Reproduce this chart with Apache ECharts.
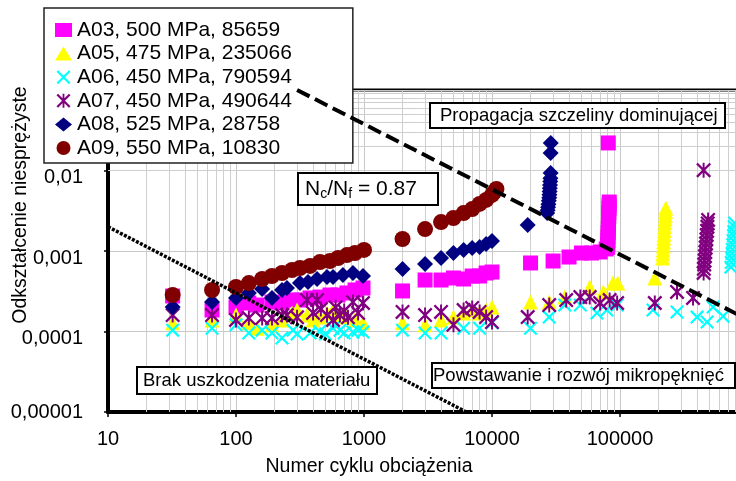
<!DOCTYPE html>
<html><head><meta charset="utf-8">
<script src="https://cdn.jsdelivr.net/npm/echarts@6/dist/echarts.min.js"></script>
<style>html,body{margin:0;padding:0;background:#fff}#c{width:736px;height:481px}</style>
</head><body><div id="c"></div>
<script>
// ---- data (cycles, inelastic strain) ----
const seriesNames = ['A03, 500 MPa, 85659','A05, 475 MPa, 235066','A06, 450 MPa, 790594','A07, 450 MPa, 490644','A08, 525 MPa, 28758','A09, 550 MPa, 10830'];
const a03 = [[32,2.76e-4],[65,1.85e-4],[100,2.01e-4],[126,2.26e-4],[146,2.13e-4],[191,2.32e-4],[229,2.26e-4],[274,2.46e-4],[316,2.46e-4],[379,2.61e-4],[453,2.68e-4],[542,2.84e-4],[627,2.84e-4],[736,3.01e-4],[851,3.28e-4],[982,3.47e-4],
 [2000,3.19e-4],[3000,4.36e-4],[4000,4.36e-4],[5000,4.62e-4],[6000,4.49e-4],[7000,4.89e-4],[8000,4.89e-4],[9000,5.33e-4],[10000,5.48e-4],
 [20000,7.1e-4],[30000,7.51e-4],[40000,8.42e-4],[50000,9.44e-4],[60000,9.44e-4],[70000,9.72e-4],[78000,1.06e-3],
 [80000,1.11e-3],[80200,1.2e-3],[80400,1.35e-3],[80600,1.5e-3],[80800,1.7e-3],[81000,1.9e-3],[81200,2.1e-3],[81400,2.4e-3],[81600,2.7e-3],[81800,3.0e-3],[82000,3.4e-3],[82200,3.7e-3],[82400,4.06e-3],[81000,0.022]];
const a05 = [[32,1.28e-4],[65,1.39e-4],[100,1.6e-4],[126,1.28e-4],[146,1.10e-4],[191,1.21e-4],[229,1.39e-4],[274,1.70e-4],[300,1.85e-4],[359,1.6e-4],[400,1.39e-4],[453,1.51e-4],[514,1.70e-4],[573,1.85e-4],[649,1.6e-4],[736,1.51e-4],[851,1.39e-4],[982,1.28e-4],
 [2000,1.28e-4],[3000,1.21e-4],[4000,1.39e-4],[5000,1.51e-4],[6000,1.70e-4],[7000,1.85e-4],[8000,1.70e-4],[9000,1.85e-4],[10000,2.01e-4],
 [20000,2.32e-4],[28000,2.32e-4],[37000,2.68e-4],[58000,3.57e-4],[74000,3.10e-4],[88000,4.0e-4],[96000,4.0e-4],[187000,4.62e-4],
 [215000,8.2e-4],[216000,9.2e-4],[217000,1.03e-3],[218000,1.15e-3],[219000,1.3e-3],[220000,1.45e-3],[221000,1.62e-3],[222000,1.8e-3],[223000,2.0e-3],[224000,2.25e-3],[225000,2.5e-3],[226000,2.8e-3],[227000,3.1e-3],[228000,3.42e-3]];
const a06 = [[32,1.04e-4],[65,1.10e-4],[100,1.21e-4],[126,9.58e-5],[160,1.04e-4],[191,9.58e-5],[229,8.3e-5],[279,1.04e-4],[300,9.3e-5],[379,9.58e-5],[450,1.0e-4],[500,9.3e-5],[573,1.10e-4],[650,1.04e-4],[700,9.6e-5],[820,9.86e-5],[900,1.04e-4],[982,9.86e-5],
 [2000,1.04e-4],[3000,9.58e-5],[4000,9.58e-5],[6000,1.10e-4],[8000,1.1e-4],[10000,1.28e-4],[20000,1.10e-4],[28000,1.51e-4],[37000,2.13e-4],[49000,2.13e-4],[66000,1.70e-4],[79000,1.85e-4],[95000,2.13e-4],[181000,1.85e-4],[279000,1.75e-4],[400000,1.51e-4],[479000,1.31e-4],[534000,2.01e-4],[638000,1.55e-4],
 [735000,6.3e-4],[740000,7.2e-4],[745000,8.2e-4],[750000,9.3e-4],[755000,1.05e-3],[760000,1.2e-3],[765000,1.35e-3],[770000,1.55e-3],[775000,1.75e-3],[780000,2.0e-3],[785000,2.23e-3]];
const a07 = [[32,1.6e-4],[65,1.6e-4],[100,1.39e-4],[126,1.47e-4],[160,1.47e-4],[191,1.47e-4],[229,1.6e-4],[250,1.6e-4],[300,1.5e-4],[359,2.46e-4],[400,1.7e-4],[430,2.46e-4],[460,1.9e-4],[514,1.6e-4],[573,1.39e-4],[600,2.0e-4],[649,1.6e-4],[700,1.8e-4],[750,1.5e-4],[820,2.32e-4],[900,1.7e-4],[982,2.26e-4],
 [2000,1.75e-4],[3000,1.6e-4],[4000,1.75e-4],[5000,1.21e-4],[6000,1.85e-4],[7000,1.96e-4],[8000,1.75e-4],[9000,1.51e-4],[10000,1.31e-4],
 [19000,1.51e-4],[28000,2.13e-4],[38000,2.46e-4],[49000,2.68e-4],[58000,2.68e-4],[70000,2.26e-4],[83000,2.46e-4],[95000,2.26e-4],[187000,2.26e-4],[279000,3.1e-4],[372000,2.61e-4],
 [450000,5.33e-4],[452000,6.0e-4],[455000,6.8e-4],[458000,7.6e-4],[461000,8.6e-4],[464000,9.7e-4],[467000,1.1e-3],[470000,1.24e-3],[473000,1.4e-3],[476000,1.58e-3],[479000,1.78e-3],[482000,2.0e-3],[485000,2.2e-3],[488000,2.43e-3],[450000,0.0101]];
const a08 = [[32,2.01e-4],[65,2.32e-4],[100,2.61e-4],[126,3.01e-4],[160,3.37e-4],[191,2.61e-4],[229,3.28e-4],[250,3.47e-4],[316,4.0e-4],[365,4.12e-4],[430,4.49e-4],[514,4.75e-4],[573,4.75e-4],[685,5.03e-4],[820,5.33e-4],[982,4.89e-4],
 [2000,5.98e-4],[3000,6.9e-4],[4000,8.18e-4],[5000,9.44e-4],[6000,1.03e-3],[7000,1.09e-3],[8000,1.12e-3],[9000,1.22e-3],[10000,1.33e-3],[19000,2.1e-3],
 [27000,2.97e-3],[27200,3.2e-3],[27400,3.5e-3],[27600,3.8e-3],[27800,4.2e-3],[28000,4.6e-3],[28100,5.0e-3],[28200,5.5e-3],[28300,6.0e-3],[28400,6.6e-3],[28500,7.3e-3],[28600,8.0e-3],[28700,9.3e-3],[28700,0.0165],[28758,0.022]];
const a09 = [[32,2.84e-4],[65,3.28e-4],[100,3.57e-4],[126,4.0e-4],[160,4.49e-4],[191,4.89e-4],[229,5.33e-4],[274,5.81e-4],[316,6.15e-4],[379,6.52e-4],[453,7.3e-4],[542,7.51e-4],[627,8.19e-4],[736,8.91e-4],[851,9.44e-4],[1000,1.03e-3],
 [2000,1.41e-3],[3000,1.87e-3],[4000,2.29e-3],[5000,2.57e-3],[6000,2.96e-3],[7000,3.32e-3],[8000,3.84e-3],[9000,4.31e-3],[10000,4.97e-3],[10400,5.4e-3],[10830,5.9e-3]];
// boundary lines
const crackLine = [[300,0.1],[1000000,0.00014]];
const noDamageLine = [[10,0.002],[6300,0.00001]];
// ticks
const xTickLabels = ['10','100','1000','10000','100000',''];
const yTickLabels = ['0,00001','0,0001','0,001','0,01',''];
const minorFactors = [2,3,4,5,6,7,8,9];
const xDecades = [10,100,1000,10000,100000];
const yDecades = [0.00001,0.0001,0.001,0.01];

const FONT = "'Liberation Sans', Arial, sans-serif";
const xSym = 'path://M0 2.2L2.2 0L20 17.8L17.8 20Z M17.8 0L20 2.2L2.2 20L0 17.8Z';
const starSym = 'path://M0 2.2L2.2 0L20 17.8L17.8 20Z M17.8 0L20 2.2L2.2 20L0 17.8Z M8.7 0L11.3 0L11.3 20L8.7 20Z';

const minorLines = [];
xDecades.forEach(d => minorFactors.forEach(f => minorLines.push({xAxis: f*d})));
yDecades.forEach(d => minorFactors.forEach(f => minorLines.push({yAxis: f*d})));

const chart = echarts.init(document.getElementById('c'), null, {renderer:'canvas'});
const scatter = (i, data, symbol, size, color) => ({
  name: seriesNames[i], type:'scatter', data, symbol, symbolSize:size,
  itemStyle:{color, opacity:1}, z:2, silent:true
});
chart.setOption({
  animation:false,
  backgroundColor:'#fff',
  textStyle:{fontFamily:FONT},
  grid:{left:108, right:-12, top:90, bottom:69, show:true, borderColor:'#000', borderWidth:3, backgroundColor:'transparent', containLabel:false, outerBoundsMode:'none'},
  xAxis:{type:'log', logBase:10, min:10, max:1000000,
    axisLine:{show:true, onZero:false, lineStyle:{color:'#000', width:4}},
    axisTick:{show:true, length:5, lineStyle:{color:'#000', width:1.5}},
    axisLabel:{margin:17, fontSize:20, color:'#000', fontFamily:FONT, showMaxLabel:false,
      formatter:v => xTickLabels[Math.round(Math.log10(v))-1] ?? ''},
    splitLine:{show:true, lineStyle:{color:'#c8c8c8', width:1}},
    minorTick:{show:false}, minorSplitLine:{show:false}},
  yAxis:{type:'log', logBase:10, min:0.00001, max:0.1,
    axisLine:{show:true, onZero:false, lineStyle:{color:'#000', width:4}},
    axisTick:{show:true, length:4, lineStyle:{color:'#000', width:1.5}},
    axisLabel:{margin:25, fontSize:20, color:'#000', fontFamily:FONT,
      formatter:v => { const i = Math.round(Math.log10(v))+5; const t = yTickLabels[i] ?? ''; if(!t) return ''; return i===0 ? '{e|'+t+'}' : '{d|'+t+'}'; },
      rich:{d:{fontSize:20, color:'#000', fontFamily:FONT, padding:[14,0,0,0]}, e:{fontSize:20, color:'#000', fontFamily:FONT}}},
    splitLine:{show:true, lineStyle:{color:'#c8c8c8', width:1}},
    minorTick:{show:false}, minorSplitLine:{show:false}},
  legend:{data:seriesNames, orient:'vertical', left:44, top:8, itemWidth:17, itemHeight:14, itemGap:1.6,
    padding:[11,61,4,11], backgroundColor:'#fff', borderColor:'#222', borderWidth:1.5, borderRadius:0,
    selectedMode:false, z:4,
    textStyle:{fontSize:21, color:'#000', fontFamily:FONT, lineHeight:22}},
  graphic:[
    {type:'rect', z:50, shape:{x:430, y:103, width:295, height:25}, style:{fill:'#fff', stroke:'#000', lineWidth:2}},
    {type:'text', z:51, x:440, y:116, style:{text:'Propagacja szczeliny dominującej', font:'18.5px '+FONT, fill:'#000', textAlign:'left', textVerticalAlign:'middle'}},
    {type:'rect', z:50, shape:{x:137, y:367, width:240, height:27}, style:{fill:'#fff', stroke:'#000', lineWidth:2}},
    {type:'text', z:51, x:143, y:381, style:{text:'Brak uszkodzenia materiału', font:'18.5px '+FONT, fill:'#000', textAlign:'left', textVerticalAlign:'middle'}},
    {type:'rect', z:50, shape:{x:432, y:363, width:303, height:25}, style:{fill:'#fff', stroke:'#000', lineWidth:2}},
    {type:'text', z:51, x:433, y:376, style:{text:'Powstawanie i rozwój mikropęknięć', font:'18.5px '+FONT, fill:'#000', textAlign:'left', textVerticalAlign:'middle'}},
    {type:'rect', z:50, shape:{x:298, y:173, width:140, height:32}, style:{fill:'#fff', stroke:'#000', lineWidth:2}},
    {type:'text', z:51, x:305, y:189, style:{text:'{n|N}{s|c}{n|/N}{s|f}{n| = 0.87}', textAlign:'left', textVerticalAlign:'middle', fill:'#000', font:'21px '+FONT,
      rich:{n:{fontSize:21, fontFamily:FONT, lineHeight:24, fill:'#000'}, s:{fontSize:14, fontFamily:FONT, lineHeight:12, verticalAlign:'bottom', fill:'#000'}}}},
    {type:'text', z:51, x:369, y:467, style:{text:'Numer cyklu obciążenia', font:'19.5px '+FONT, fill:'#000', textAlign:'center', textVerticalAlign:'middle'}},
    {type:'text', z:51, x:21, y:205, rotation:Math.PI/2, style:{text:'Odkształcenie niesprężyste', font:'19.5px '+FONT, fill:'#000', textAlign:'center', textVerticalAlign:'middle'}}
  ],
  series:[
    {type:'scatter', data:[], z:1, silent:true,
      markLine:{silent:true, z:1, symbol:'none', animation:false, label:{show:false},
        lineStyle:{color:'#cfcfcf', type:'solid', width:1}, emphasis:{disabled:true}, data:minorLines}},
    scatter(0, a03, 'rect', 15, '#ff00ff'),
    scatter(1, a05, 'triangle', 15, '#ffff00'),
    scatter(2, a06, xSym, 14, '#00ffff'),
    scatter(3, a07, starSym, 15, '#800080'),
    scatter(4, a08, 'diamond', 16, '#000080'),
    scatter(5, a09, 'circle', 16, '#800000'),
    {type:'line', data:crackLine, symbol:'none', z:10, silent:true, lineStyle:{color:'#000', width:4, type:[14,6]}},
    {type:'line', data:noDamageLine, symbol:'none', z:10, silent:true, lineStyle:{color:'#000', width:3.5, type:[3,1.5]}}
  ]
});
</script></body></html>
